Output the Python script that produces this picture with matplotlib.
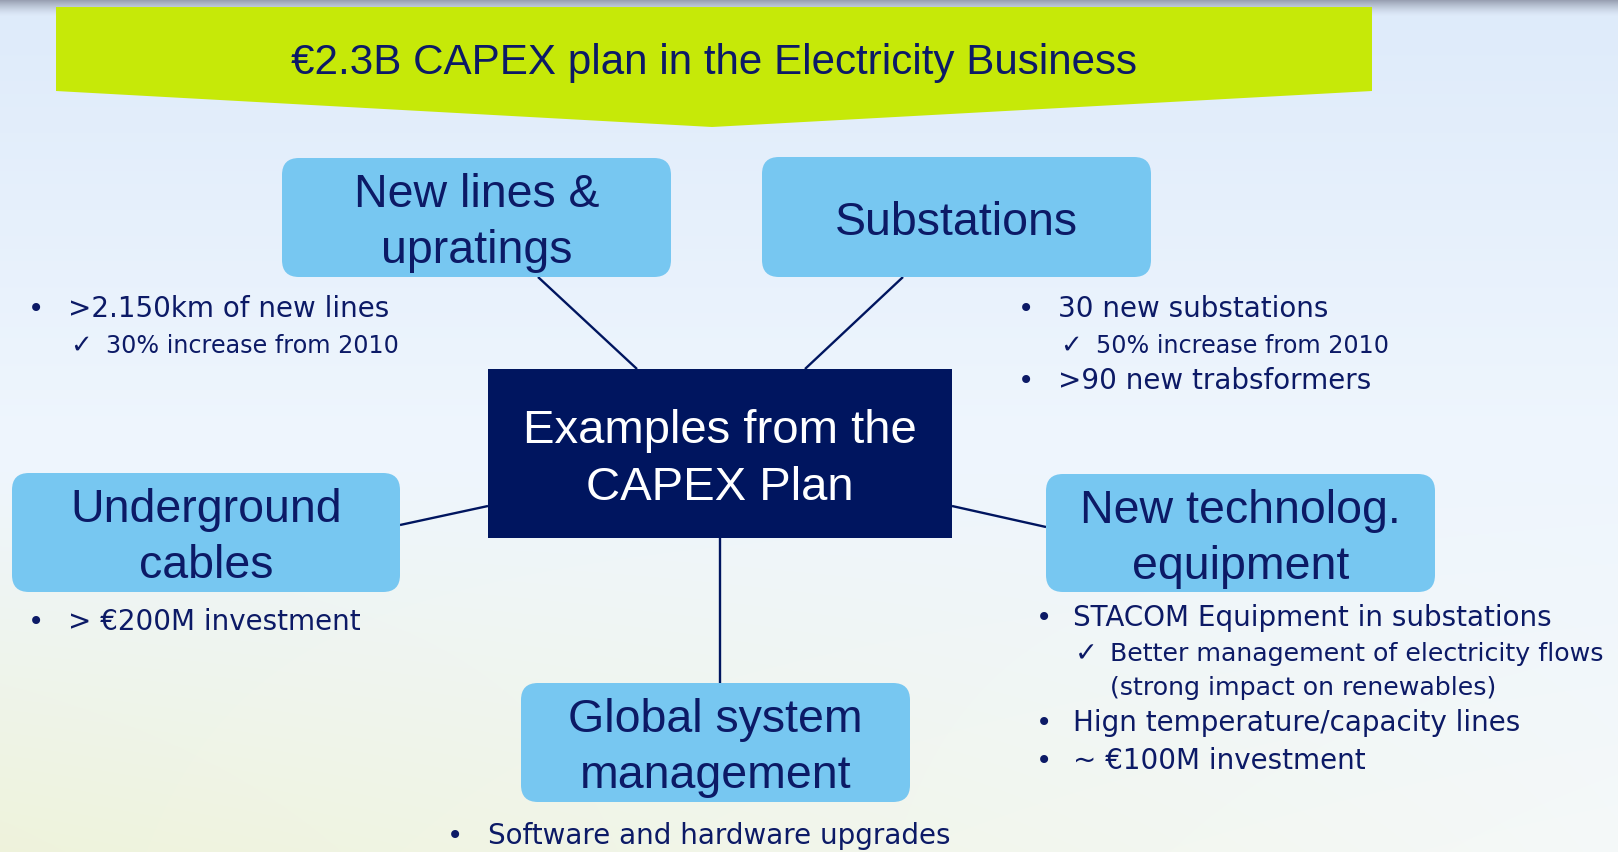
import numpy as np
import matplotlib
matplotlib.use("Agg")
import matplotlib.pyplot as plt
from matplotlib.patches import FancyBboxPatch, Polygon

# ---------------- content ----------------
title_text = "€2.3B CAPEX plan in the Electricity Business"
center_lines = ["Examples from the", "CAPEX Plan"]
topic_lines = [
    ["New lines &", "upratings"],
    ["Substations"],
    ["Underground", "cables"],
    ["New technolog.", "equipment"],
    ["Global system", "management"],
]
# level 0 = bullet, 1 = check mark, 2 = continuation of a check item
bullet_texts = [
    [">2.150km of new lines", "30% increase from 2010"],
    ["30 new substations", "50% increase from 2010", ">90 new trabsformers"],
    ["> €200M investment"],
    ["STACOM Equipment in substations", "Better management of electricity flows",
     "(strong impact on renewables)", "Hign temperature/capacity lines", "~ €100M investment"],
    ["Software and hardware upgrades"],
]
bullet_levels = [[0, 1], [0, 1, 0], [0], [0, 1, 2, 0, 0], [0]]

# ---------------- layout (pixels) ----------------
W, H = 1618, 852
boxes = [(282, 158, 671, 277), (762, 157, 1151, 277), (12, 473, 400, 592),
         (1046, 474, 1435, 592), (521, 683, 910, 802)]
center_box = (488, 369, 952, 538)
center_baselines = [443, 500]
group_layout = [  # bullet x, text x, check x, sub-text x, sub font size, baselines
    (36, 68, 70, 106, 17.2, [317, 353]),
    (1026, 1058, 1060, 1096, 17.2, [317, 353, 389]),
    (36, 68, 70, 106, 17.2, [630]),
    (1044, 1073, 1075, 1110, 18.2, [626, 661, 695, 731, 769]),
    (455, 488, 490, 526, 17.2, [844]),
]
connectors = [((538, 277), (637, 369)), ((903, 277), (805, 369)),
              ((400, 525), (488, 506)), ((952, 506), (1046, 527)),
              ((720, 538), (720, 683))]

NAVY = "#0c1a66"
BOX = "#77c7f1"
DARK = "#00155f"
LIME = "#c6e908"
BIG_FONT = ["Liberation Sans", "DejaVu Sans"]
SMALL_FONT = ["DejaVu Sans"]

fig = plt.figure(figsize=(W / 100, H / 100), dpi=100)
ax = fig.add_axes([0, 0, 1, 1])
ax.set_xlim(0, W)
ax.set_ylim(H, 0)
ax.axis("off")

# ---------------- background ----------------
yy, xx = np.mgrid[0:H, 0:W]
fy = yy / H
fx = xx / W
sky_top = np.array([0.87, 0.92, 0.98])
sky_mid = np.array([0.935, 0.963, 0.993])
grass = np.array([0.935, 0.952, 0.86])
bottom_right = np.array([0.96, 0.975, 0.975])
t1 = np.clip(fy / 0.5, 0, 1)[..., None]
img = sky_top * (1 - t1) + sky_mid * t1
t2 = np.clip((fy - 0.55) / 0.45, 0, 1)[..., None]
bottom = grass * (1 - fx[..., None]) + bottom_right * fx[..., None]
img = img * (1 - t2) + bottom * t2
band = np.clip(1 - yy / 16.0, 0, 1)[..., None] ** 1.5
img = img * (1 - band) + np.array([0.6, 0.63, 0.7]) * band
ax.imshow(img, extent=(0, W, H, 0), zorder=0, aspect="auto")

# ---------------- banner ----------------
ax.add_patch(Polygon([(56, 7), (1372, 7), (1372, 91), (712, 127), (56, 91)],
                     closed=True, facecolor=LIME, edgecolor="none", zorder=1))
ax.text(714, 74, title_text, ha="center", va="baseline", color=NAVY,
        fontsize=30.3, family=BIG_FONT, zorder=3)

# ---------------- connectors ----------------
for (x0, y0), (x1, y1) in connectors:
    ax.plot([x0, x1], [y0, y1], color=DARK, lw=1.7, zorder=1.5,
            solid_capstyle="butt")

# ---------------- topic boxes ----------------
for (x0, y0, x1, y1), lines in zip(boxes, topic_lines):
    ax.add_patch(FancyBboxPatch((x0, y0), x1 - x0, y1 - y0,
                                boxstyle="round,pad=0,rounding_size=17",
                                facecolor=BOX, edgecolor="none", zorder=2))
    cx = (x0 + x1) / 2
    if len(lines) == 1:
        bases = [y0 + 78]
    else:
        bases = [y0 + 49, y0 + 105]
    for s, b in zip(lines, bases):
        ax.text(cx, b, s, ha="center", va="baseline", color=NAVY,
                fontsize=33.5, family=BIG_FONT, zorder=3)

# ---------------- center box ----------------
x0, y0, x1, y1 = center_box
ax.add_patch(plt.Rectangle((x0, y0), x1 - x0, y1 - y0, facecolor=DARK,
                           edgecolor="none", zorder=2))
for s, b in zip(center_lines, center_baselines):
    ax.text((x0 + x1) / 2, b, s, ha="center", va="baseline", color="white",
            fontsize=34, family=BIG_FONT, zorder=3)

# ---------------- bullets ----------------
for texts, levels, (bx, tx, chx, sx, subfs, bases) in zip(bullet_texts, bullet_levels, group_layout):
    for s, lev, b in zip(texts, levels, bases):
        if lev == 0:
            ax.text(bx, b, "•", ha="center", va="baseline", color=NAVY,
                    fontsize=20, family=SMALL_FONT, zorder=3)
            ax.text(tx, b, s, ha="left", va="baseline", color=NAVY,
                    fontsize=20, family=SMALL_FONT, zorder=3)
        else:
            if lev == 1:
                ax.text(chx, b, "✓", ha="left", va="baseline", color=NAVY,
                        fontsize=subfs + 1.5, family=SMALL_FONT, zorder=3,
                        fontweight="bold")
            ax.text(sx, b, s, ha="left", va="baseline", color=NAVY,
                    fontsize=subfs, family=SMALL_FONT, zorder=3)

fig.savefig("out.png", dpi=100)
